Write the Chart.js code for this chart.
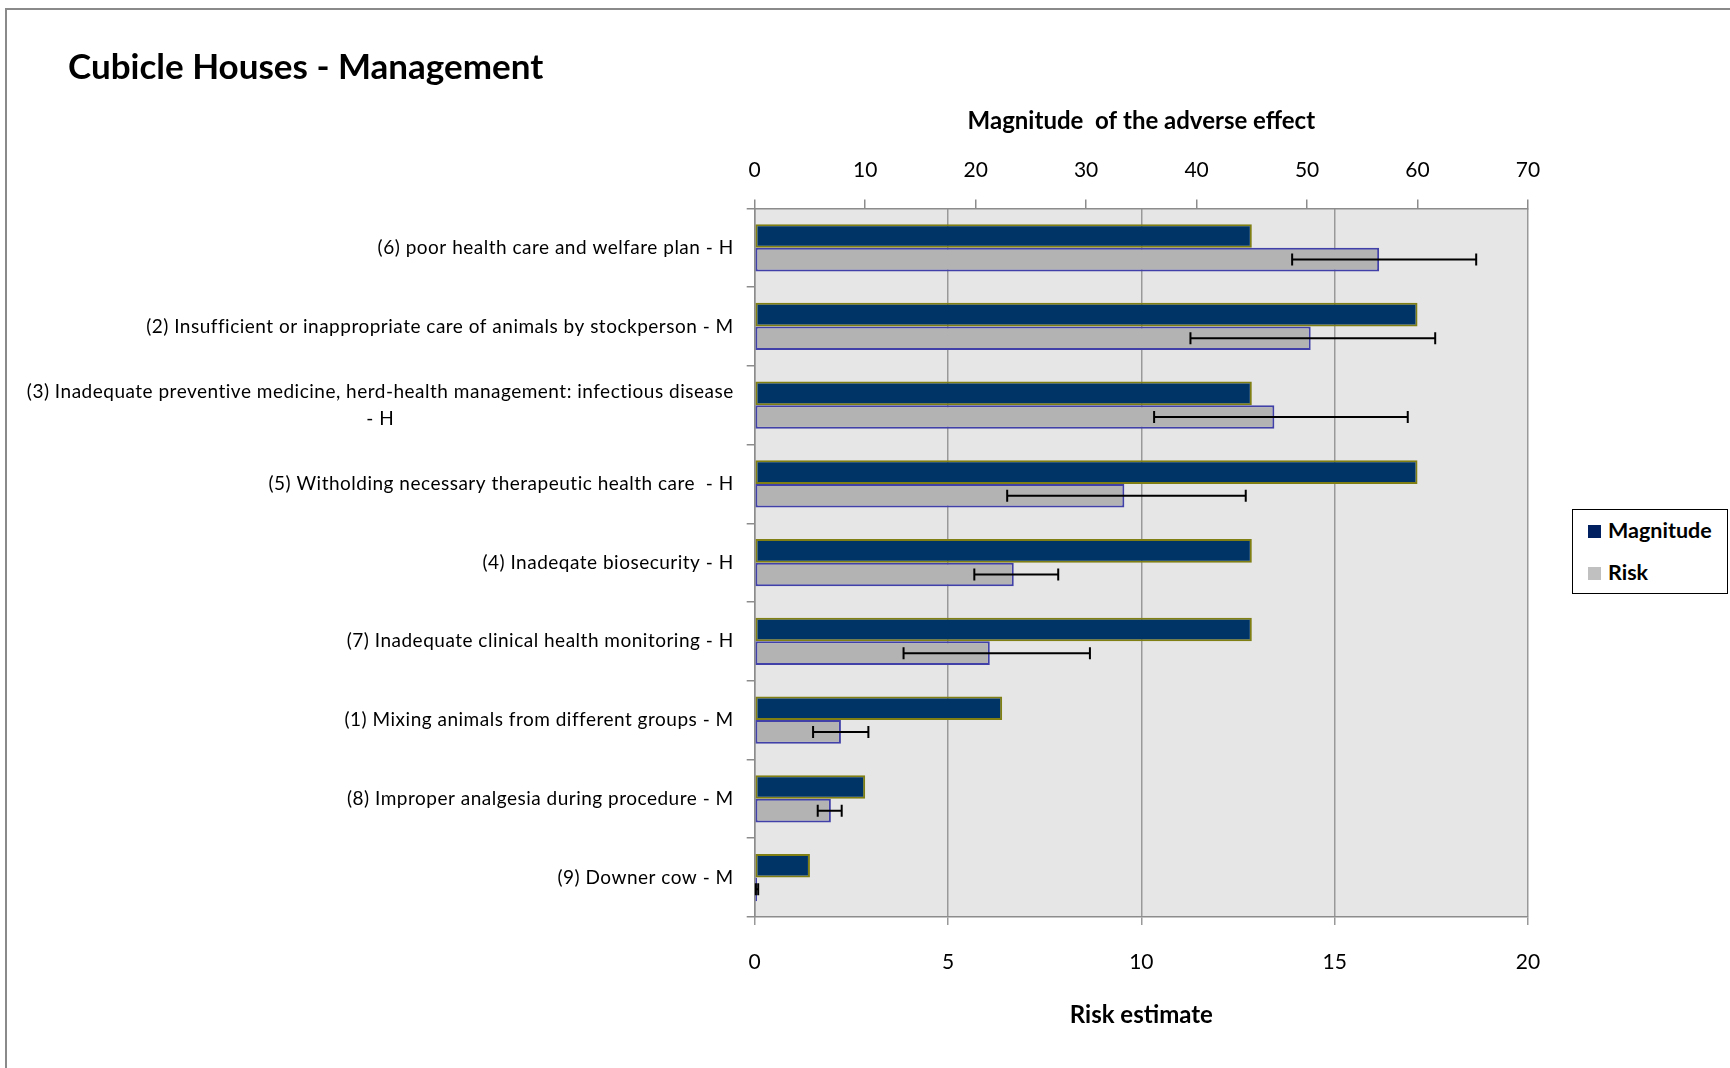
<!DOCTYPE html>
<html>
<head>
<meta charset="utf-8">
<script src="https://cdn.jsdelivr.net/npm/chart.js@4.4.0/dist/chart.umd.min.js"></script>
<style>
  body { margin: 0; background: #fff; font-family: Lato, sans-serif; }
  #wrap { position: relative; width: 1730px; height: 1068px; overflow: hidden; }
  #frame { position: absolute; left: 5px; top: 8px; width: 1900px; height: 1200px; border-left: 2px solid #8a8a8a; border-top: 2px solid #8a8a8a; }
  #title { position: absolute; left: 68px; top: 43px; font: bold 35px Lato, sans-serif; line-height: 44px; color: #000; white-space: nowrap; }
  #legend { position: absolute; left: 1572px; top: 509px; width: 156px; height: 85px; border: 1.5px solid #000; background: #fff; box-sizing: border-box; }
  .item { position: absolute; left: 15px; font: bold 21.5px Lato, sans-serif; color: #000; line-height: 24px; white-space: nowrap; }
  .sw { display: inline-block; width: 13px; height: 13px; margin-right: 7px; vertical-align: 0px; }
  canvas { position: absolute; left: 0; top: 0; }
</style>
</head>
<body>
<div id="wrap">
  <div id="frame"></div>
  <canvas id="chart" width="1730" height="1068"></canvas>
  <div id="title">Cubicle Houses - Management</div>
  <div id="legend">
    <div class="item" style="top:8px"><span class="sw" style="background:#002060"></span>Magnitude</div>
    <div class="item" style="top:50px"><span class="sw" style="background:#c0c0c0"></span>Risk</div>
  </div>
</div>
<script>
const categories = [
  ["(6) poor health care and welfare plan - H"],
  ["(2) Insufficient or inappropriate care of animals by stockperson - M"],
  ["(3) Inadequate preventive medicine, herd-health management: infectious disease", "- H"],
  ["(5) Witholding necessary therapeutic health care  - H"],
  ["(4) Inadeqate biosecurity - H"],
  ["(7) Inadequate clinical health monitoring - H"],
  ["(1) Mixing animals from different groups - M"],
  ["(8) Improper analgesia during procedure - M"],
  ["(9) Downer cow - M"]
];
const magnitude = [45, 60, 45, 60, 45, 45, 22.4, 10, 5];
const risk      = [16.15, 14.38, 13.44, 9.56, 6.7, 6.08, 2.23, 1.97, 0.06];
const riskLow   = [13.9, 11.27, 10.33, 6.53, 5.68, 3.85, 1.51, 1.63, 0.03];
const riskHigh  = [18.66, 17.6, 16.89, 12.7, 7.85, 8.67, 2.94, 2.25, 0.09];
const magTicks = [0, 10, 20, 30, 40, 50, 60, 70];
const riskTicks = [0, 5, 10, 15, 20];

Chart.defaults.font.family = "Lato";
Chart.defaults.color = "#000";

const plotBg = {
  id: "plotBg",
  beforeDraw(chart) {
    const { ctx, chartArea: a } = chart;
    ctx.save();
    ctx.fillStyle = "#e6e6e6";
    ctx.fillRect(a.left, a.top, a.right - a.left, a.bottom - a.top);
    ctx.restore();
  }
};

const errorBars = {
  id: "errorBars",
  afterDatasetsDraw(chart) {
    const { ctx } = chart;
    const xs = chart.scales.x;
    const meta = chart.getDatasetMeta(1);
    ctx.save();
    ctx.strokeStyle = "#000";
    ctx.lineWidth = 2;
    meta.data.forEach((bar, i) => {
      const y = bar.y;
      const x0 = xs.getPixelForValue(riskLow[i]);
      const x1 = xs.getPixelForValue(riskHigh[i]);
      ctx.beginPath();
      ctx.moveTo(x0, y); ctx.lineTo(x1, y);
      ctx.moveTo(x0, y - 6); ctx.lineTo(x0, y + 6);
      ctx.moveTo(x1, y - 6); ctx.lineTo(x1, y + 6);
      ctx.stroke();
    });
    ctx.restore();
  }
};

// category labels: block right-aligned, extra lines centred under the first
const catLabels = {
  id: "catLabels",
  afterDraw(chart) {
    const { ctx, chartArea } = chart;
    const ys = chart.scales.y;
    const right = chartArea.left - 21;
    const lh = 26.5;
    ctx.save();
    ctx.font = "19px Lato";
    if ("letterSpacing" in ctx) ctx.letterSpacing = "0.5px";
    ctx.fillStyle = "#000";
    ctx.textBaseline = "middle";
    ctx.textAlign = "center";
    categories.forEach((lines, i) => {
      const w = Math.max(...lines.map(l => ctx.measureText(l).width));
      const cx = right - w / 2;
      const yc = ys.getPixelForTick(i);
      lines.forEach((l, j) => {
        ctx.fillText(l, cx, yc + (j - (lines.length - 1) / 2) * lh);
      });
    });
    ctx.restore();
  }
};

new Chart(document.getElementById("chart"), {
  type: "bar",
  data: {
    labels: categories,
    datasets: [
      {
        label: "Magnitude", data: magnitude, xAxisID: "xTop",
        backgroundColor: "#003366", borderColor: "#7f7f14", borderWidth: 2, borderSkipped: false,
        barPercentage: 1, categoryPercentage: 0.6
      },
      {
        label: "Risk", data: risk, xAxisID: "x",
        backgroundColor: "#b3b3b3", borderColor: "#4040a8", borderWidth: 2, borderSkipped: false,
        barPercentage: 1, categoryPercentage: 0.6
      }
    ]
  },
  options: {
    indexAxis: "y",
    responsive: false,
    animation: false,
    devicePixelRatio: 1,
    layout: { padding: { left: 0, right: 202, top: 100, bottom: 30 } },
    plugins: { legend: { display: false }, tooltip: { enabled: false } },
    scales: {
      y: {
        grid: { offset: true, drawOnChartArea: false, tickLength: 8, color: "#8c8c8c", lineWidth: 1.5 },
        border: { color: "#8c8c8c", width: 1.5 },
        ticks: { display: false },
        afterFit(s) { s.width = 754.7; }
      },
      x: {
        position: "bottom", min: 0, max: 20,
        afterBuildTicks(s) { s.ticks = riskTicks.map(v => ({ value: v })); },
        ticks: { padding: 25, font: { size: 21 } },
        grid: { color: "#999", lineWidth: 1.5, tickLength: 8 },
        border: { color: "#8c8c8c", width: 1.5 },
        title: { display: true, text: "Risk estimate", font: { size: 24, weight: "bold" }, padding: { top: 0, bottom: 8 } },
        afterFit(s) { s.height = 1068 - 30 - 916.9; }
      },
      xTop: {
        position: "top", min: 0, max: 70,
        afterBuildTicks(s) { s.ticks = magTicks.map(v => ({ value: v })); },
        ticks: { padding: 17, font: { size: 21 } },
        grid: { drawOnChartArea: false, color: "#8c8c8c", lineWidth: 1.5, tickLength: 9 },
        border: { color: "#8c8c8c", width: 1.5 },
        title: { display: true, text: "Magnitude  of the adverse effect", font: { size: 24, weight: "bold" }, padding: { top: 7, bottom: 0 } },
        afterFit(s) { s.height = 108.4; }
      }
    }
  },
  plugins: [plotBg, errorBars, catLabels]
});
</script>
</body>
</html>
